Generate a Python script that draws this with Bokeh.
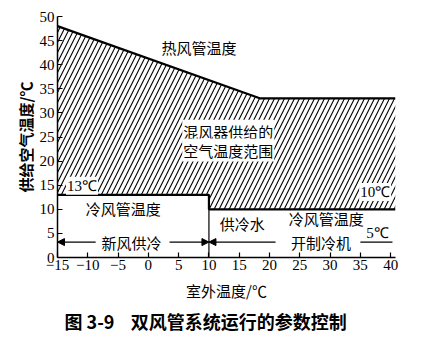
from bokeh.plotting import figure
from bokeh.models import Label, Arrow, NormalHead, Title, Range1d, FixedTicker
from bokeh.embed import file_html
from bokeh.resources import INLINE

# ---- data ----
x_ticks = [-15, -10, -5, 0, 5, 10, 15, 20, 25, 30, 35, 40]
y_ticks = [0, 5, 10, 15, 20, 25, 30, 35, 40, 45, 50]
x_tick_labels = ["−15", "−10", "−5", "0", "5", "10", "15", "20", "25", "30", "35", "40"]

# hot-duct (upper) boundary of the mixing range
hot_x = [-15, 18.5, 40.8]
hot_y = [48, 33, 33]
# cold-duct (lower) boundary of the mixing range
cold_x = [-15, 10, 10, 40.8]
cold_y = [13, 13, 10, 10]
# split between fresh-air cooling and chilled water
split_x = [10, 10]
split_y = [0, 10]
# 5 degC cold duct mark (chiller on)
chiller_x = [35, 40.3]
chiller_y = [3.2, 3.2]
# arrow level
arrow_y = 3.2

CJK = "Noto Sans CJK SC"
SERIF = "Liberation Serif"

p = figure(width=421, height=343, output_backend="svg", toolbar_location=None,
           x_range=Range1d(-15, 40.8), y_range=Range1d(0, 50),
           min_border_left=57, min_border_right=26, min_border_top=16, min_border_bottom=86)
p.outline_line_color = None
p.grid.visible = False
p.background_fill_color = "white"
p.border_fill_color = "white"

# hatched mixing region
poly_x = hot_x + cold_x[::-1]
poly_y = hot_y + cold_y[::-1]
p.patch(poly_x, poly_y, fill_color=None, line_color=None,
        hatch_pattern="/", hatch_color="black", hatch_scale=10, hatch_weight=1.1)

p.line(hot_x, hot_y, line_color="black", line_width=2.2)
p.line(cold_x, cold_y, line_color="black", line_width=2.2)
p.line(split_x, split_y, line_color="black", line_width=1.2)
p.line(chiller_x, chiller_y, line_color="black", line_width=1.2)

# arrows
def arr(x0, x1):
    p.add_layout(Arrow(end=NormalHead(size=7, fill_color="black", line_color="black"),
                       x_start=x0, y_start=arrow_y, x_end=x1, y_end=arrow_y,
                       line_color="black", line_width=1.2))

arr(-8.7, -15)
arr(3.5, 10)
arr(21, 10)

def lab(x, y, t, size="15px", font=CJK, align="left", base="middle", bg=None):
    p.add_layout(Label(x=x, y=y, text=t, text_font=font, text_font_size=size,
                       text_align=align, text_baseline=base, text_color="black",
                       background_fill_color=bg, padding=1))

lab(2, 43.5, "热风管温度")
lab(5.6, 26.2, "混风器供给的", bg="white")
lab(5.6, 22.3, "空气温度范围", bg="white")
lab(-10.5, 10.2, "冷风管温度")
lab(23, 8.0, "冷风管温度")
lab(11.6, 7.0, "供冷水")
lab(-7.9, 3.2, "新风供冷")
lab(23.4, 3.2, "开制冷机")
lab(-13.6, 14.9, "13℃", size="15px", font=SERIF, bg="white")
lab(34.8, 13.6, "10℃", size="15px", font=SERIF, bg="white")
lab(35.8, 5.0, "5℃", size="15px", font=SERIF)

# axes
for ax in (p.xaxis[0], p.yaxis[0]):
    ax.axis_line_color = "black"
    ax.axis_line_width = 1.5
    ax.major_tick_line_color = "black"
    ax.major_tick_line_width = 1.2
    ax.major_tick_in = 5
    ax.major_tick_out = 0
    ax.minor_tick_line_color = None
    ax.major_label_text_font = SERIF
    ax.major_label_text_font_size = "15px"
    ax.major_label_text_color = "black"
    ax.axis_label_text_font = CJK
    ax.axis_label_text_font_style = "normal"
    ax.axis_label_text_color = "black"
    ax.axis_label_text_font_size = "15px"

p.xaxis.ticker = FixedTicker(ticks=x_ticks)
p.yaxis.ticker = FixedTicker(ticks=y_ticks)
p.xaxis.major_label_overrides = {t: s for t, s in zip(x_ticks, x_tick_labels)}
p.xaxis.major_label_standoff = 2
p.yaxis.major_label_standoff = 3
p.xaxis.axis_label = "室外温度/℃"
p.xaxis.axis_label_standoff = 7
p.yaxis.axis_label = "供给空气温度/℃"
p.yaxis.axis_label_text_font_style = "bold"
p.yaxis.axis_label_standoff = 1

p.add_layout(Title(text="图 3-9\u00a0\u00a0\u00a0\u00a0双风管系统运行的参数控制", align="left",
                   offset=7, text_font=CJK, text_font_size="18px", text_font_style="bold",
                   text_color="black", standoff=4), "below")

open("out.html", "w").write(file_html(p, INLINE))
